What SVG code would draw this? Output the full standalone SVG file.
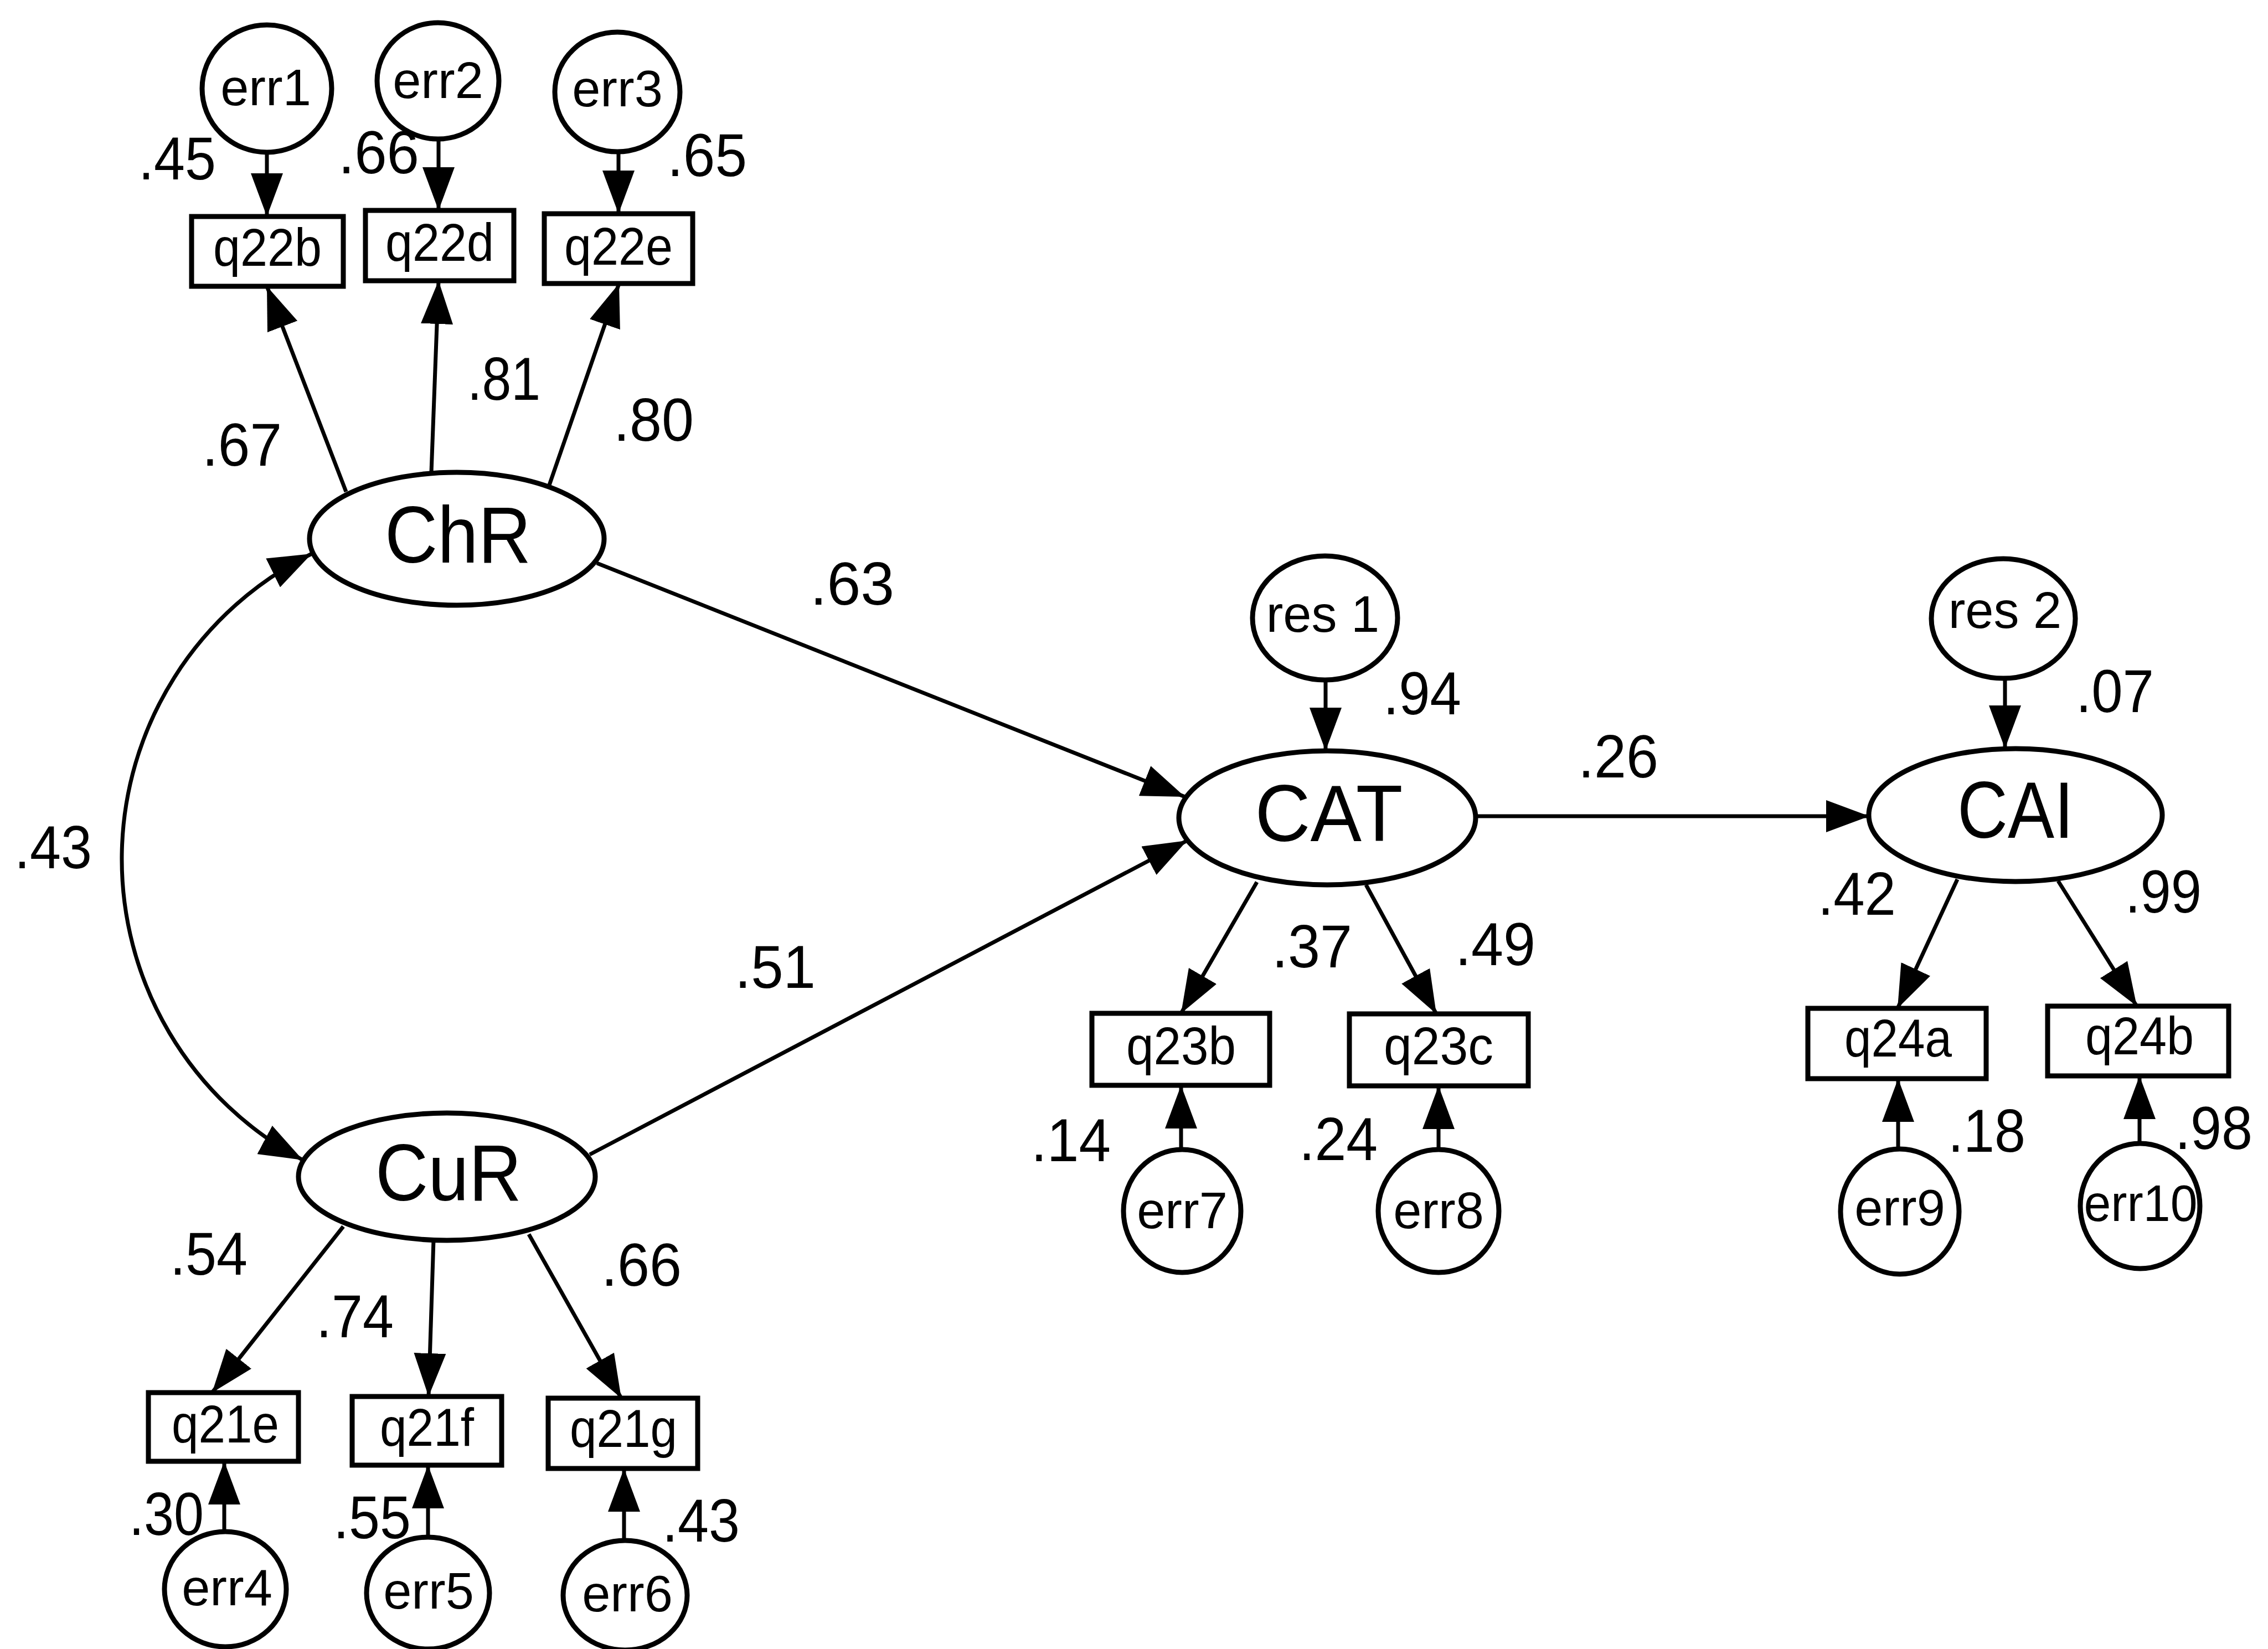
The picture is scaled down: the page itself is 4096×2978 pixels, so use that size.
<svg xmlns="http://www.w3.org/2000/svg" width="4096" height="2978" viewBox="0 0 4096 2978">
<defs>
<style>
.shape{fill:#fff;stroke:#000;stroke-width:9}
.conn path{fill:none;stroke:#000;stroke-width:7;marker-end:url(#ah)}
text{font-family:"Liberation Sans",Arial,sans-serif;fill:#000}
.lat{font-size:145px;text-anchor:middle}
.obs{font-size:96px;text-anchor:middle}
.err{font-size:92px;text-anchor:middle}
.num{font-size:110px}
</style>
<marker id="ah" markerUnits="userSpaceOnUse" markerWidth="78" markerHeight="58" viewBox="0 0 78 58" refX="78" refY="29" orient="auto-start-reverse"><path d="M0,0 L78,29 L0,58 z" fill="#000"/></marker>
</defs>
<rect width="4096" height="2978" fill="#fff"/>

<g id="err1"><ellipse class="shape" cx="482" cy="160" rx="117" ry="115"/><text class="err" x="480" y="190">err1</text></g>
<g id="err2"><ellipse class="shape" cx="791" cy="146" rx="110" ry="105"/><text class="err" x="791" y="177">err2</text></g>
<g id="err3"><ellipse class="shape" cx="1115" cy="166" rx="113" ry="108"/><text class="err" x="1115" y="192">err3</text></g>
<g id="q22b"><rect class="shape" x="346" y="391" width="274" height="126"/><text class="obs" x="483" y="480" textLength="196" lengthAdjust="spacingAndGlyphs">q22b</text></g>
<g id="q22d"><rect class="shape" x="660" y="380" width="268" height="127"/><text class="obs" x="794" y="471" textLength="196" lengthAdjust="spacingAndGlyphs">q22d</text></g>
<g id="q22e"><rect class="shape" x="983" y="386" width="268" height="126"/><text class="obs" x="1117" y="478" textLength="196" lengthAdjust="spacingAndGlyphs">q22e</text></g>
<g id="ChR"><ellipse class="shape" cx="825" cy="973" rx="266" ry="120"/><text class="lat" x="827" y="1016" textLength="264" lengthAdjust="spacingAndGlyphs">ChR</text></g>
<g id="CuR"><ellipse class="shape" cx="807" cy="2125" rx="268" ry="115"/><text class="lat" x="810" y="2168" textLength="264" lengthAdjust="spacingAndGlyphs">CuR</text></g>
<g id="q21e"><rect class="shape" x="268" y="2515" width="271" height="124"/><text class="obs" x="407" y="2605" textLength="194" lengthAdjust="spacingAndGlyphs">q21e</text></g>
<g id="q21f"><rect class="shape" x="636" y="2522" width="270" height="124"/><text class="obs" x="771" y="2611" textLength="170" lengthAdjust="spacingAndGlyphs">q21f</text></g>
<g id="q21g"><rect class="shape" x="990" y="2525" width="270" height="127"/><text class="obs" x="1126" y="2613" textLength="194" lengthAdjust="spacingAndGlyphs">q21g</text></g>
<g id="err4"><ellipse class="shape" cx="407" cy="2870" rx="110" ry="104"/><text class="err" x="410" y="2899">err4</text></g>
<g id="err5"><ellipse class="shape" cx="773" cy="2877" rx="111" ry="101"/><text class="err" x="774" y="2905">err5</text></g>
<g id="err6"><ellipse class="shape" cx="1129" cy="2881" rx="112" ry="99"/><text class="err" x="1133" y="2910">err6</text></g>
<g id="res1"><ellipse class="shape" cx="2393" cy="1116" rx="131" ry="112"/><text class="err" x="2389" y="1141">res 1</text></g>
<g id="CAT"><ellipse class="shape" cx="2397" cy="1477" rx="268" ry="121"/><text class="lat" x="2400" y="1519" textLength="267" lengthAdjust="spacingAndGlyphs">CAT</text></g>
<g id="q23b"><rect class="shape" x="1972" y="1830" width="321" height="130"/><text class="obs" x="2133" y="1922" textLength="198" lengthAdjust="spacingAndGlyphs">q23b</text></g>
<g id="q23c"><rect class="shape" x="2437" y="1831" width="323" height="130"/><text class="obs" x="2598" y="1922" textLength="198" lengthAdjust="spacingAndGlyphs">q23c</text></g>
<g id="err7"><ellipse class="shape" cx="2135" cy="2187" rx="106" ry="111"/><text class="err" x="2135" y="2218">err7</text></g>
<g id="err8"><ellipse class="shape" cx="2598" cy="2187" rx="109" ry="111"/><text class="err" x="2598" y="2218">err8</text></g>
<g id="res2"><ellipse class="shape" cx="3618" cy="1117" rx="130" ry="108"/><text class="err" x="3621" y="1134">res 2</text></g>
<g id="CAI"><ellipse class="shape" cx="3640" cy="1472" rx="265" ry="120"/><text class="lat" x="3640" y="1513" textLength="210" lengthAdjust="spacingAndGlyphs">CAI</text></g>
<g id="q24a"><rect class="shape" x="3265" y="1821" width="322" height="127"/><text class="obs" x="3428" y="1908" textLength="194" lengthAdjust="spacingAndGlyphs">q24a</text></g>
<g id="q24b"><rect class="shape" x="3698" y="1817" width="327" height="126"/><text class="obs" x="3864" y="1904" textLength="196" lengthAdjust="spacingAndGlyphs">q24b</text></g>
<g id="err9"><ellipse class="shape" cx="3431" cy="2188" rx="107" ry="113"/><text class="err" x="3431" y="2213">err9</text></g>
<g id="err10"><ellipse class="shape" cx="3865" cy="2178" rx="108" ry="113"/><text class="err" x="3866" y="2205" textLength="205" lengthAdjust="spacingAndGlyphs">err10</text></g>

<g id="connectors" class="conn">
<path d="M482,278 L482,391"/>
<path d="M792,251 L792,380"/>
<path d="M1117,274 L1117,386"/>
<path d="M625,888 L482,517"/>
<path d="M779,853 L792,507"/>
<path d="M992,876 L1118,512"/>
<path d="M563,1000 A615,615 0 0 0 547,2095" style="marker-start:url(#ah)"/>
<path d="M1078,1017 L2140,1439"/>
<path d="M1065,2085 L2144,1518"/>
<path d="M2394,1228 L2394,1356"/>
<path d="M2665,1474 L3376,1474"/>
<path d="M3621,1225 L3621,1352"/>
<path d="M620,2215 L383,2515"/>
<path d="M783,2239 L774,2522"/>
<path d="M955,2229 L1122,2525"/>
<path d="M405,2766 L405,2639"/>
<path d="M773,2776 L773,2646"/>
<path d="M1127,2782 L1127,2652"/>
<path d="M2270,1593 L2133,1830"/>
<path d="M2467,1598 L2594,1831"/>
<path d="M2133,2076 L2133,1960"/>
<path d="M2598,2076 L2598,1961"/>
<path d="M3535,1588 L3427,1821"/>
<path d="M3717,1591 L3859,1817"/>
<path d="M3428,2075 L3428,1948"/>
<path d="M3864,2065 L3864,1943"/>
</g>

<g id="labels" class="num">
<text x="250" y="324" textLength="140" lengthAdjust="spacingAndGlyphs">.45</text>
<text x="611" y="313" textLength="146" lengthAdjust="spacingAndGlyphs">.66</text>
<text x="1205" y="318" textLength="144" lengthAdjust="spacingAndGlyphs">.65</text>
<text x="365" y="841" textLength="144" lengthAdjust="spacingAndGlyphs">.67</text>
<text x="844" y="722" textLength="132" lengthAdjust="spacingAndGlyphs">.81</text>
<text x="1108" y="796" textLength="145" lengthAdjust="spacingAndGlyphs">.80</text>
<text x="1463" y="1092" textLength="152" lengthAdjust="spacingAndGlyphs">.63</text>
<text x="26" y="1568" textLength="140" lengthAdjust="spacingAndGlyphs">.43</text>
<text x="1327" y="1784" textLength="146" lengthAdjust="spacingAndGlyphs">.51</text>
<text x="307" y="2302" textLength="140" lengthAdjust="spacingAndGlyphs">.54</text>
<text x="571" y="2415" textLength="140" lengthAdjust="spacingAndGlyphs">.74</text>
<text x="1086" y="2322" textLength="145" lengthAdjust="spacingAndGlyphs">.66</text>
<text x="233" y="2772" textLength="135" lengthAdjust="spacingAndGlyphs">.30</text>
<text x="602" y="2778" textLength="140" lengthAdjust="spacingAndGlyphs">.55</text>
<text x="1196" y="2784" textLength="140" lengthAdjust="spacingAndGlyphs">.43</text>
<text x="2498" y="1290" textLength="141" lengthAdjust="spacingAndGlyphs">.94</text>
<text x="2850" y="1404" textLength="145" lengthAdjust="spacingAndGlyphs">.26</text>
<text x="2297" y="1747" textLength="145" lengthAdjust="spacingAndGlyphs">.37</text>
<text x="2628" y="1743" textLength="145" lengthAdjust="spacingAndGlyphs">.49</text>
<text x="1862" y="2097" textLength="144" lengthAdjust="spacingAndGlyphs">.14</text>
<text x="2346" y="2095" textLength="142" lengthAdjust="spacingAndGlyphs">.24</text>
<text x="3749" y="1286" textLength="141" lengthAdjust="spacingAndGlyphs">.07</text>
<text x="3283" y="1652" textLength="141" lengthAdjust="spacingAndGlyphs">.42</text>
<text x="3838" y="1648" textLength="138" lengthAdjust="spacingAndGlyphs">.99</text>
<text x="3518" y="2080" textLength="140" lengthAdjust="spacingAndGlyphs">.18</text>
<text x="3928" y="2075" textLength="140" lengthAdjust="spacingAndGlyphs">.98</text>
</g>
</svg>
